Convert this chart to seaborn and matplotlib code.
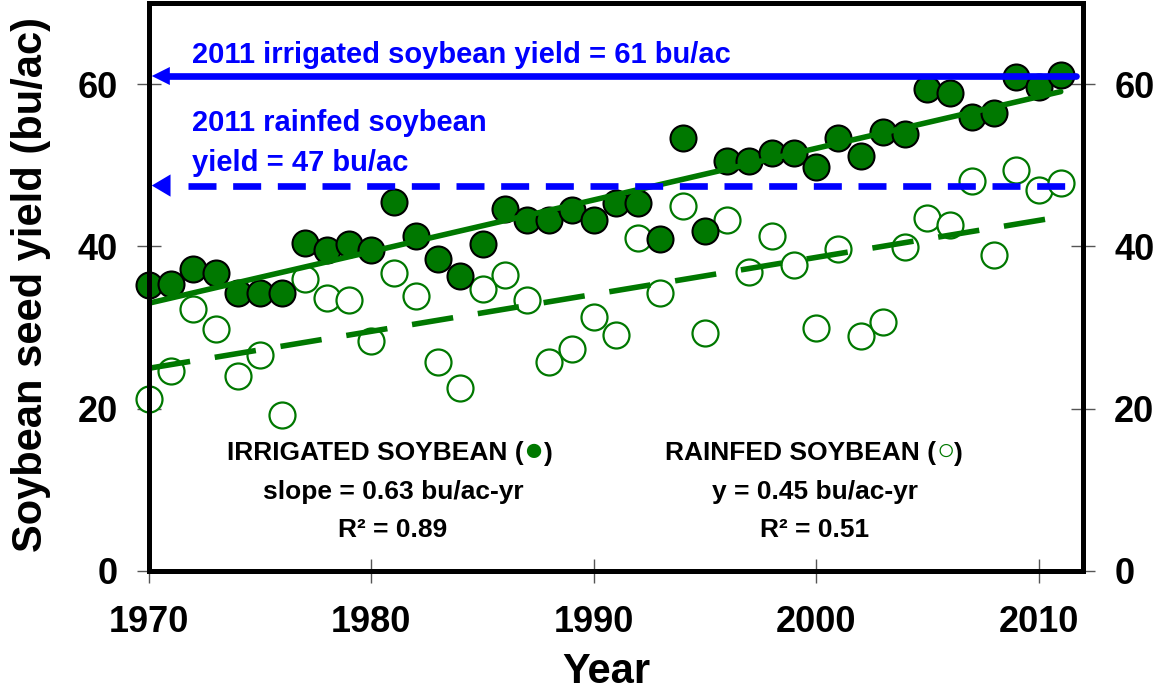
import numpy as np
import pandas as pd
import matplotlib
matplotlib.use("Agg")
import matplotlib.pyplot as plt
import seaborn as sns

years = list(range(1970, 2012))
irrigated = [35.2, 35.4, 37.2, 36.7, 34.2, 34.3, 34.3, 40.4, 39.5, 40.3,
             39.5, 45.5, 41.3, 38.5, 36.3, 40.3, 44.6, 43.3, 43.3, 44.5,
             43.3, 45.4, 45.4, 40.9, 53.4, 41.9, 50.5, 50.5, 51.5, 51.5,
             49.8, 53.4, 51.2, 54.1, 53.9, 59.4, 58.9, 56.0, 56.5, 60.9,
             59.7, 61.1]
rainfed = [21.2, 24.7, 32.3, 29.8, 24.0, 26.6, 19.2, 36.0, 33.6, 33.4,
           28.4, 36.7, 33.9, 25.7, 22.6, 34.8, 36.5, 33.4, 25.7, 27.3,
           31.3, 29.1, 41.0, 34.3, 45.0, 29.3, 43.3, 36.8, 41.3, 37.7,
           30.0, 39.7, 28.9, 30.7, 39.9, 43.5, 42.6, 48.1, 39.0, 49.4,
           46.9, 47.8]
irrigated_2011 = 61
rainfed_2011 = 47.5
xticks = [1970, 1980, 1990, 2000, 2010]
yticks = [0, 20, 40, 60]

df = pd.DataFrame({"year": years, "irrigated": irrigated, "rainfed": rainfed})

sns.set_style("white")
plt.rcParams["font.family"] = ["Liberation Sans", "DejaVu Sans"]
plt.rcParams["font.weight"] = "bold"
plt.rcParams["axes.labelweight"] = "bold"
plt.rcParams["text.color"] = "black"
plt.rcParams["axes.labelcolor"] = "black"
plt.rcParams["xtick.labelcolor"] = "black"
plt.rcParams["ytick.labelcolor"] = "black"

GREEN = "#007800"
BLUE = "#0000FF"

fig = plt.figure(figsize=(11.63, 6.91), dpi=100)
ax = fig.add_axes([0.1281, 0.1737, 0.8031, 0.822])

# rainfed: open circles, dashed fit
sns.regplot(data=df, x="year", y="rainfed", ci=None, ax=ax, color=GREEN,
            scatter_kws=dict(s=350, facecolors="white", edgecolors=GREEN,
                             linewidths=1.6, alpha=1, zorder=2, clip_on=False),
            line_kws=dict(lw=4, dashes=(7.5, 4.5), zorder=4))
# irrigated: filled circles, solid fit
sns.regplot(data=df, x="year", y="irrigated", ci=None, ax=ax, color=GREEN,
            scatter_kws=dict(s=350, facecolors=GREEN, edgecolors="black",
                             linewidths=1.5, alpha=1, zorder=3, clip_on=False),
            line_kws=dict(lw=4, zorder=5))

# 2011 reference lines with arrow heads
ax.axhline(irrigated_2011, xmin=0.015, xmax=0.9925, color=BLUE, lw=4.8, zorder=6)
ax.axhline(rainfed_2011, xmin=0.0418, xmax=0.9925, color=BLUE, lw=4.8,
           dashes=(4.2, 2.5), zorder=6)
for yv, hl, hw in [(irrigated_2011, 1.3, 0.65), (rainfed_2011, 1.35, 0.8)]:
    ax.annotate("", xy=(0.003, yv), xycoords=("axes fraction", "data"),
                xytext=(0.03, yv), textcoords=("axes fraction", "data"),
                arrowprops=dict(arrowstyle=f"-|>,head_length={hl},head_width={hw}",
                                color=BLUE, lw=0, shrinkA=0, shrinkB=0,
                                mutation_scale=10),
                zorder=7)

tr = ax.transAxes
ax.text(0.046, 0.909, "2011 irrigated soybean yield = 61 bu/ac", transform=tr,
        color=BLUE, fontsize=21, ha="left", va="center")
ax.text(0.046, 0.789, "2011 rainfed soybean", transform=tr,
        color=BLUE, fontsize=21, ha="left", va="center")
ax.text(0.046, 0.718, "yield = 47 bu/ac", transform=tr,
        color=BLUE, fontsize=21, ha="left", va="center")

# stats blocks
def stats_block(x_start, x_center, title, sym, symsize, line2, line3):
    t = ax.text(x_start, 0.2077, title + " (", transform=tr, fontsize=19,
                ha="left", va="center")
    s = ax.annotate(sym, xy=(1, 0.55), xycoords=t, fontsize=symsize, color=GREEN,
                    ha="left", va="center")
    ax.annotate(")", xy=(1, 0.42), xycoords=s, fontsize=19, ha="left", va="center")
    ax.text(x_center, 0.139, line2, transform=tr, fontsize=19, ha="center", va="center")
    ax.text(x_center, 0.0722, line3, transform=tr, fontsize=19, ha="center", va="center")

stats_block(0.0835, 0.2612, "IRRIGATED SOYBEAN", "\u25CF", 24,
            "slope = 0.63 bu/ac-yr", "R\u00B2 = 0.89")
stats_block(0.5525, 0.713, "RAINFED SOYBEAN", "\u25CB", 22,
            "y = 0.45 bu/ac-yr", "R\u00B2 = 0.51")

ax.set_xlim(1970, 2012)
ax.set_ylim(0, 70)
ax.set_xticks(xticks)
ax.set_yticks(yticks)
ax.tick_params(axis="both", direction="inout", length=17, width=1,
               color="#555555", labelcolor="black", labelsize=26)
ax.tick_params(axis="y", left=True, right=True, labelleft=True, labelright=True)
ax.tick_params(axis="y", which="major", pad=14)
ax.tick_params(axis="x", bottom=True, pad=16)

for sp in ax.spines.values():
    sp.set_linewidth(3.6)
    sp.set_color("black")
    sp.set_zorder(10)
    sp.set_visible(True)

ax.set_xlabel("Year", fontsize=30)
ax.set_ylabel("Soybean seed yield (bu/ac)", fontsize=30)
ax.xaxis.label.set_va("center")
ax.yaxis.label.set_va("center")
ax.xaxis.set_label_coords(0.49, -0.178)
ax.yaxis.set_label_coords(-0.1263, 0.505)

fig.savefig("out.png", dpi=100)
